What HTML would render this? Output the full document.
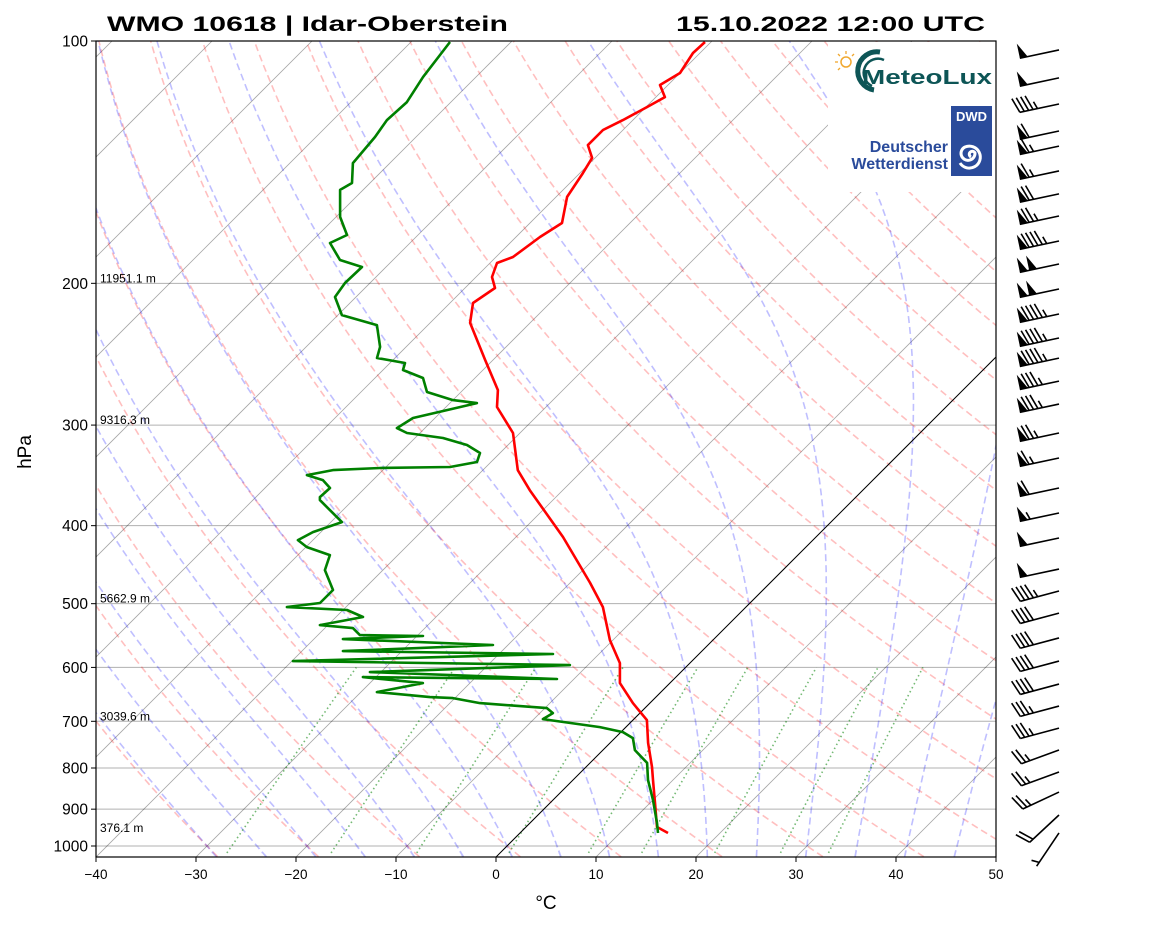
<!DOCTYPE html>
<html><head><meta charset="utf-8"><style>
html,body{margin:0;padding:0;background:#fff;}
svg{display:block;font-family:"Liberation Sans","DejaVu Sans",sans-serif;}
</style></head><body>
<svg id="chart" width="1160" height="925" viewBox="0 0 1160 925" xmlns="http://www.w3.org/2000/svg">
<defs><clipPath id="plotclip"><rect x="96" y="41" width="900" height="816"/></clipPath></defs>
<rect width="1160" height="925" fill="#fff"/>
<g id="bg" clip-path="url(#plotclip)"></g>
<g id="logos">
  <rect x="828" y="42" width="168" height="150" fill="#fff"/>
  <g>
    <circle cx="846" cy="62" r="5" fill="none" stroke="#f0a830" stroke-width="1.5"/>
    <g stroke="#f0a830" stroke-width="1.3">
      <line x1="846" y1="51" x2="846" y2="54"/><line x1="835" y1="62" x2="838" y2="62"/>
      <line x1="838" y1="54" x2="840" y2="56"/><line x1="854" y1="54" x2="852" y2="56"/>
      <line x1="838" y1="70" x2="840" y2="68"/>
    </g>
    <path d="M880 52 A18 18 0 1 0 874 90" fill="none" stroke="#0d5556" stroke-width="5"/>
    <path d="M884 60 A12 12 0 0 0 872 86" fill="none" stroke="#0d5556" stroke-width="2.5"/>
    <text x="862" y="84" font-size="20" font-weight="bold" fill="#0d5556" textLength="130" lengthAdjust="spacingAndGlyphs">MeteoLux</text>
  </g>
  <g>
    <rect x="951" y="106" width="41" height="70" fill="#2a4b9b"/>
    <text x="971.5" y="121" font-size="13" font-weight="bold" fill="#fff" text-anchor="middle">DWD</text>
    <path d="M971 157 a3 3 0 1 1 4 -4 a7 7 0 1 1 -10 -6 a11 11 0 1 1 -5 16" fill="none" stroke="#fff" stroke-width="3"/>
    <text x="948" y="152" font-size="16" font-weight="bold" fill="#2a4b9b" text-anchor="end">Deutscher</text>
    <text x="948" y="169" font-size="16" font-weight="bold" fill="#2a4b9b" text-anchor="end">Wetterdienst</text>
  </g>
</g>
<g id="data" clip-path="url(#plotclip)"></g>
<g id="axes"></g>
<g id="barbs"></g>
<text x="107" y="31" font-size="21" font-weight="bold" textLength="401" lengthAdjust="spacingAndGlyphs">WMO 10618 | Idar-Oberstein</text>
<text x="985" y="31" font-size="21" font-weight="bold" text-anchor="end" textLength="309" lengthAdjust="spacingAndGlyphs">15.10.2022 12:00 UTC</text>
<text x="31" y="452" font-size="19" text-anchor="middle" transform="rotate(-90 31 452)">hPa</text>
<text x="546" y="909" font-size="19" text-anchor="middle">°C</text>
</svg>
<script>
// ---- data ----
const tempP = [100.3,103.5,109.6,113.4,117.4,120.8,125.4,129.0,134.7,139.7,145.9,156.2,168.3,175.2,185.5,188.7,196.4,202.7,211.6,224.0,249.0,271.4,284.9,306.9,341.3,361.4,413.2,471.2,504.9,554.9,592.6,627.5,664.5,697.6,744.7,797.7,827.9,884.3,947.1,963.6];
const tempT = [-60.6,-60.7,-60.0,-60.8,-59.1,-59.9,-61.0,-62.0,-62.0,-60.3,-59.7,-58.9,-56.8,-57.6,-58.3,-59.3,-58.4,-57.0,-57.7,-56.0,-50.8,-46.5,-44.9,-40.7,-36.5,-33.3,-25.3,-18.0,-14.3,-10.3,-7.0,-5.0,-1.7,1.4,3.8,6.6,8.0,10.5,13.1,14.8];
const dewP = [100.3,110.8,119.1,125.4,131.6,141.8,150.1,153.1,165.4,174.2,178.2,187.1,190.9,199.8,208.0,219.0,225.4,239.9,247.6,251.2,256.3,262.2,272.9,279.3,281.7,287.4,294.0,302.6,306.9,311.3,317.6,324.9,333.4,338.2,339.2,341.2,346.1,351.1,359.2,368.6,371.8,385.9,396.0,407.4,416.9,425.3,435.1,454.2,480.8,499.0,504.9,509.2,519.5,531.6,536.2,547.0,548.5,553.3,562.8,572.6,577.5,589.2,596.0,608.1,620.3,616.8,627.5,643.9,653.2,655.0,664.5,674.1,683.8,695.6,711.8,722.0,734.5,760.1,788.5,827.9,876.8,936.3,963.6];
const dewT = [-86.1,-85.3,-84.4,-84.6,-84.1,-83.7,-81.8,-82.3,-79.6,-77.1,-78.0,-75.3,-72.4,-72.5,-72.1,-69.6,-65.1,-62.6,-61.8,-58.5,-58.0,-55.2,-53.4,-50.0,-47.3,-49.6,-52.2,-52.8,-51.3,-47.2,-44.1,-42.0,-41.4,-43.6,-50.5,-55.0,-57.1,-55.0,-53.5,-53.6,-53.3,-50.7,-48.9,-50.8,-51.5,-49.9,-46.8,-45.8,-43.0,-43.0,-45.9,-39.6,-37.3,-40.8,-37.2,-35.8,-29.4,-37.1,-21.5,-35.9,-14.6,-39.9,-11.8,-31.1,-11.7,-31.3,-24.7,-28.4,-22.6,-20.2,-17.0,-9.8,-8.7,-9.1,-2.6,0.2,1.8,3.2,5.7,7.5,10.0,12.7,13.8];
const barbP = [102.3,110.8,119.4,129.0,134.7,144.6,154.4,164.5,176.7,188.7,202.7,217.7,233.2,247.0,263.8,281.7,306.0,328.7,358.1,384.7,413.2,451.6,480.8,512.2,549.9,587.5,627.5,668.2,711.8,757.8,807.0,854.6,912.5,960.7];
const barbSpd = [50,50,45,60,65,65,70,75,95,100,100,95,95,95,85,85,75,65,60,55,50,50,45,40,40,40,40,35,35,25,25,25,20,5];
const barbDir = [258,258,258,258,258,258,258,258,258,258,258,258,258,258,258,258,258,258,258,258,258,258,255,255,255,255,255,255,255,250,250,245,227,214];
const pTicks = [100,200,300,400,500,600,700,800,900,1000];
const tTicks = [-40,-30,-20,-10,0,10,20,30,40,50];
const heightP = [200,300,500,700,963.6];
const heightLbl = ["11951.1 m","9316.3 m","5662.9 m","3039.6 m","376.1 m"];
const mixW = [0.0004,0.001,0.002,0.004,0.007,0.01,0.016,0.024,0.032];

// ---- scales ----
const NS="http://www.w3.org/2000/svg";
function yOf(p){return 41+805*Math.log10(p/100);}
function xOf(T,p){return 1353+10*T-yOf(p);}
const PBOT=1031, PTOP=99.5;
function mk(tag,attrs,parent){const e=document.createElementNS(NS,tag);for(const k in attrs)e.setAttribute(k,attrs[k]);parent.appendChild(e);return e;}
function pathFrom(pts){return pts.map((q,i)=>(i?'L':'M')+q[0].toFixed(1)+' '+q[1].toFixed(1)).join('');}
const bg=document.getElementById('bg'), dg=document.getElementById('data'), ax=document.getElementById('axes'), bb=document.getElementById('barbs');
function pLevels(p0,p1,n){const a=[];for(let i=0;i<=n;i++)a.push(p0*Math.pow(p1/p0,i/n));return a;}

pTicks.forEach(p=>{const l=mk('line',{x1:96,x2:996,y1:yOf(p),y2:yOf(p),stroke:'#b0b0b0','stroke-width':1},bg);

});
for(let T=-140;T<=50;T+=10){const l=mk('line',{x1:xOf(T,PBOT),y1:yOf(PBOT),x2:xOf(T,PTOP),y2:yOf(PTOP),stroke:'#000','stroke-opacity':0.35,'stroke-width':0.8},bg);

}
for(let t0=-30;t0<=200;t0+=10){const th=t0+273.15;const pts=pLevels(PBOT,PTOP,60).map(p=>[xOf(th*Math.pow(p/1000,0.2857)-273.15,p),yOf(p)]);
const e=mk('path',{d:pathFrom(pts),fill:'none',stroke:'#ff0000','stroke-opacity':0.25,'stroke-width':1.6,'stroke-dasharray':'7 4'},bg);

}
function es(Tc){return 6.112*Math.exp(17.67*Tc/(Tc+243.5));}
function dTdp(T,p){const Tc=T-273.15;const e=es(Tc);const rs=0.622*e/(p-e);const Lv=2.501e6,Rd=287.04,cp=1005.7;
return (Rd*T+Lv*rs)/(cp+Lv*Lv*rs*0.622/(Rd*T*T))/p;}
function moist(t0,pEnd){let T=t0+273.15,p=1000;const pts=[[T,p]];const n=120;const dp=(pEnd-1000)/n;
for(let i=0;i<n;i++){const k1=dTdp(T,p),k2=dTdp(T+k1*dp/2,p+dp/2),k3=dTdp(T+k2*dp/2,p+dp/2),k4=dTdp(T+k3*dp,p+dp);T+=dp*(k1+2*k2+2*k3+k4)/6;p+=dp;pts.push([T,p]);}return pts;}
for(let t0=-30;t0<=45;t0+=5){const up=moist(t0,PTOP),dn=moist(t0,PBOT).reverse();const all=dn.concat(up.slice(1));
const e=mk('path',{d:pathFrom(all.map(q=>[xOf(q[0]-273.15,q[1]),yOf(q[1])])),fill:'none',stroke:'#0000ff','stroke-opacity':0.25,'stroke-width':1.6,'stroke-dasharray':'7 4'},bg);

}
mixW.forEach(w=>{const pts=pLevels(1020,600,30).map(p=>{const e=w*p/(0.622+w);const l=Math.log(e/6.112);return [xOf(243.5*l/(17.67-l),p),yOf(p)];});
const e=mk('path',{d:pathFrom(pts),fill:'none',stroke:'#008000','stroke-opacity':0.55,'stroke-width':1.6,'stroke-dasharray':'1.5 3'},bg);

});
{const l=mk('line',{x1:xOf(0,PBOT),y1:yOf(PBOT),x2:xOf(0,PTOP),y2:yOf(PTOP),stroke:'#000','stroke-width':1},bg);

}

{const e=mk('path',{d:pathFrom(tempP.map((p,i)=>[xOf(tempT[i],p),yOf(p)])),fill:'none',stroke:'#ff0000','stroke-width':2.6,'stroke-linejoin':'round'},dg);

}
{const e=mk('path',{d:pathFrom(dewP.map((p,i)=>[xOf(dewT[i],p),yOf(p)])),fill:'none',stroke:'#008000','stroke-width':2.6,'stroke-linejoin':'round'},dg);

}
heightP.forEach((p,i)=>{const t=mk('text',{x:100,y:yOf(p)-1,'font-size':12},dg);t.textContent=heightLbl[i];

});

{const r=mk('rect',{x:96,y:41,width:900,height:816,fill:'none',stroke:'#000','stroke-width':1.2},ax);

}
pTicks.forEach(p=>{const y=yOf(p);mk('line',{x1:91,x2:96,y1:y,y2:y,stroke:'#000'},ax);
const t=mk('text',{x:88,y:y+5.5,'font-size':15.5,'text-anchor':'end'},ax);t.textContent=p;

});
tTicks.forEach(T=>{const x=96+(T+40)*10;mk('line',{x1:x,x2:x,y1:857,y2:862,stroke:'#000'},ax);
const t=mk('text',{x:x,y:879,'font-size':13.5,'text-anchor':'middle'},ax);t.textContent=(T<0?'\u2212'+(-T):T);

});

barbP.forEach((p,i)=>{const g=mk('g',{},bb);


const d=barbDir[i]*Math.PI/180;const sx=Math.sin(d),sy=-Math.cos(d);const nx=-sy,ny=sx;
const tx=1059,ty=yOf(p)+1,L=40;const ex=tx+sx*L,ey=ty+sy*L;
mk('line',{x1:tx,y1:ty,x2:ex,y2:ey,stroke:'#000','stroke-width':1.6},g);
let s=barbSpd[i];let pos=0;const h=15,fw=8,sp=4.5;
const nf=Math.floor(s/50);s-=nf*50;const nb=Math.floor(s/10);s-=nb*10;const half=s>=5;
for(let k=0;k<nf;k++){const px=ex-sx*pos,py=ey-sy*pos;
mk('polygon',{points:[px,py,px-sx*fw,py-sy*fw,px+nx*h,py+ny*h].join(' '),fill:'#000'},g);pos+=fw+1.5;}
if(nf>0&&nb===0&&half)pos+=1;
for(let k=0;k<nb;k++){const px=ex-sx*pos,py=ey-sy*pos;
mk('line',{x1:px,y1:py,x2:px+nx*h+sx*5,y2:py+ny*h+sy*5,stroke:'#000','stroke-width':1.6},g);pos+=sp;}
if(half){if(nf===0&&nb===0)pos+=sp;const px=ex-sx*pos,py=ey-sy*pos;
mk('line',{x1:px,y1:py,x2:px+nx*h/2+sx*2.5,y2:py+ny*h/2+sy*2.5,stroke:'#000','stroke-width':1.6},g);}
});
</script>
</body></html>
